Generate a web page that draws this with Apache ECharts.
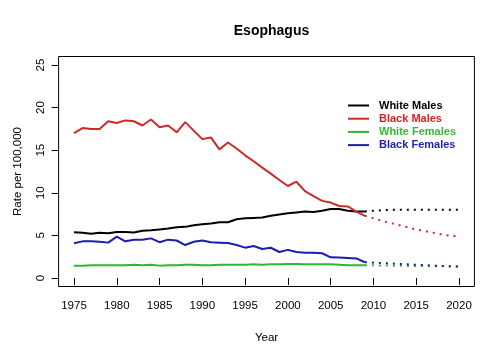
<!DOCTYPE html>
<html>
<head>
<meta charset="utf-8">
<script src="https://cdn.jsdelivr.net/npm/echarts@6/dist/echarts.min.js"></script>
<style>html,body{margin:0;padding:0;background:#fff}#c{width:504px;height:360px}</style>
</head>
<body>
<div id="c"></div>
<script>
var years = [1975,1976,1977,1978,1979,1980,1981,1982,1983,1984,1985,1986,1987,1988,1989,1990,1991,1992,1993,1994,1995,1996,1997,1998,1999,2000,2001,2002,2003,2004,2005,2006,2007,2008,2009];
var projYears = [2009,2010,2011,2012,2013,2014,2015,2016,2017,2018,2019,2020];

var whiteMales = [5.36,5.3,5.18,5.3,5.25,5.4,5.4,5.35,5.55,5.6,5.7,5.8,5.95,6.0,6.2,6.3,6.4,6.55,6.55,6.9,7.0,7.05,7.1,7.3,7.45,7.6,7.7,7.8,7.75,7.9,8.1,8.1,7.9,7.8,7.8];
var blackMales = [17.0,17.6,17.5,17.5,18.4,18.2,18.5,18.4,17.9,18.6,17.7,17.9,17.1,18.3,17.3,16.3,16.5,15.1,15.9,15.2,14.4,13.7,12.95,12.25,11.5,10.8,11.3,10.2,9.6,9.05,8.85,8.45,8.4,7.8,7.3];
var whiteFemales = [1.45,1.45,1.5,1.5,1.5,1.5,1.5,1.55,1.5,1.55,1.45,1.5,1.5,1.55,1.55,1.5,1.5,1.55,1.55,1.55,1.55,1.6,1.55,1.6,1.6,1.65,1.65,1.6,1.6,1.6,1.6,1.55,1.5,1.5,1.5];
var blackFemales = [4.07,4.3,4.3,4.25,4.15,4.85,4.3,4.5,4.5,4.65,4.2,4.5,4.4,3.87,4.25,4.4,4.2,4.15,4.1,3.87,3.56,3.76,3.4,3.55,3.05,3.3,3.05,2.97,2.95,2.9,2.43,2.4,2.35,2.3,1.85];

var whiteMalesProj = [7.8,7.9,7.95,8.0,8.0,8.0,8.0,8.0,8.0,8.0,8.0,8.0];
var blackMalesProj = [7.3,7.0,6.7,6.45,6.2,5.95,5.7,5.5,5.3,5.1,4.95,4.85];
var whiteFemalesProj = [1.5,1.48,1.47,1.45,1.44,1.42,1.41,1.4,1.38,1.37,1.36,1.35];
var blackFemalesProj = [1.85,1.8,1.75,1.7,1.65,1.6,1.55,1.5,1.45,1.4,1.37,1.33];

var xTicks = [1975,1980,1985,1990,1995,2000,2005,2010,2015,2020];
var yTicks = [0,5,10,15,20,25];

var names = ['White Males','Black Males','White Females','Black Females'];
var lineColors = ['#000000','#cc2929','#2db82d','#1c1cb0'];
var textColors = ['#000000','#e0201c','#33bb33','#1f1fb8'];

function pairs(xs, ys){ return xs.map(function(x,i){ return [x, ys[i]]; }); }

var obs = [whiteMales, blackMales, whiteFemales, blackFemales];
var proj = [whiteMalesProj, blackMalesProj, whiteFemalesProj, blackFemalesProj];

var series = [];
names.forEach(function(n,i){
  series.push({type:'line', name:n, data:pairs(years, obs[i]), symbol:'none', silent:true,
    lineStyle:{color:lineColors[i], width:2}, itemStyle:{color:lineColors[i]}, z:3});
});
names.forEach(function(n,i){
  series.push({type:'line', name:n+' projection', data:pairs(projYears, proj[i]), symbol:'none', silent:true,
    lineStyle:{color:lineColors[i], width:2, type:[2,5]}, itemStyle:{color:lineColors[i]}, z:2});
});

var font = 'Liberation Sans, Arial, Helvetica, sans-serif';
var chart = echarts.init(document.getElementById('c'), null, {renderer:'canvas'});
chart.setOption({
  animation:false,
  backgroundColor:'#fff',
  title:{text:'Esophagus', left:266.5, top:19, textAlign:'center',
    textStyle:{fontFamily:font, fontSize:14, fontWeight:'bold', color:'#000'}},
  legend:{
    data:names.map(function(n,i){ return {name:n, textStyle:{color:textColors[i]}}; }),
    orient:'vertical', left:343, top:95, itemWidth:21, itemHeight:2, itemGap:2.2, icon:'rect',
    textStyle:{fontFamily:font, fontSize:11, fontWeight:'bold', lineHeight:11, padding:[0,0,0,5]},
    selectedMode:false
  },
  grid:{left:58.6, right:29.6, top:56.5, bottom:73.5, show:true, borderColor:'#000', borderWidth:1, backgroundColor:'transparent'},
  xAxis:{type:'value', min:1973.2, max:2021.8,
    name:'Year', nameLocation:'middle', nameGap:45,
    nameTextStyle:{fontFamily:font, fontSize:11.5, color:'#000'},
    axisLine:{show:false},
    axisTick:{show:true, length:7, lineStyle:{color:'#000'}, customValues:xTicks},
    axisLabel:{fontFamily:font, fontSize:11.5, color:'#000', margin:13, customValues:xTicks,
      formatter:function(v){ return String(v); }},
    splitLine:{show:false}},
  yAxis:{type:'value', min:-1, max:26,
    name:'Rate per 100,000', nameLocation:'middle', nameGap:35, nameRotate:90,
    nameTextStyle:{fontFamily:font, fontSize:11.5, color:'#000'},
    axisLine:{show:false},
    axisTick:{show:true, length:7, lineStyle:{color:'#000'}, customValues:yTicks},
    axisLabel:{fontFamily:font, fontSize:11.5, color:'#000', margin:12, rotate:90, customValues:yTicks,
      formatter:function(v){ return String(v); }},
    splitLine:{show:false}},
  series:series
});
</script>
</body>
</html>
